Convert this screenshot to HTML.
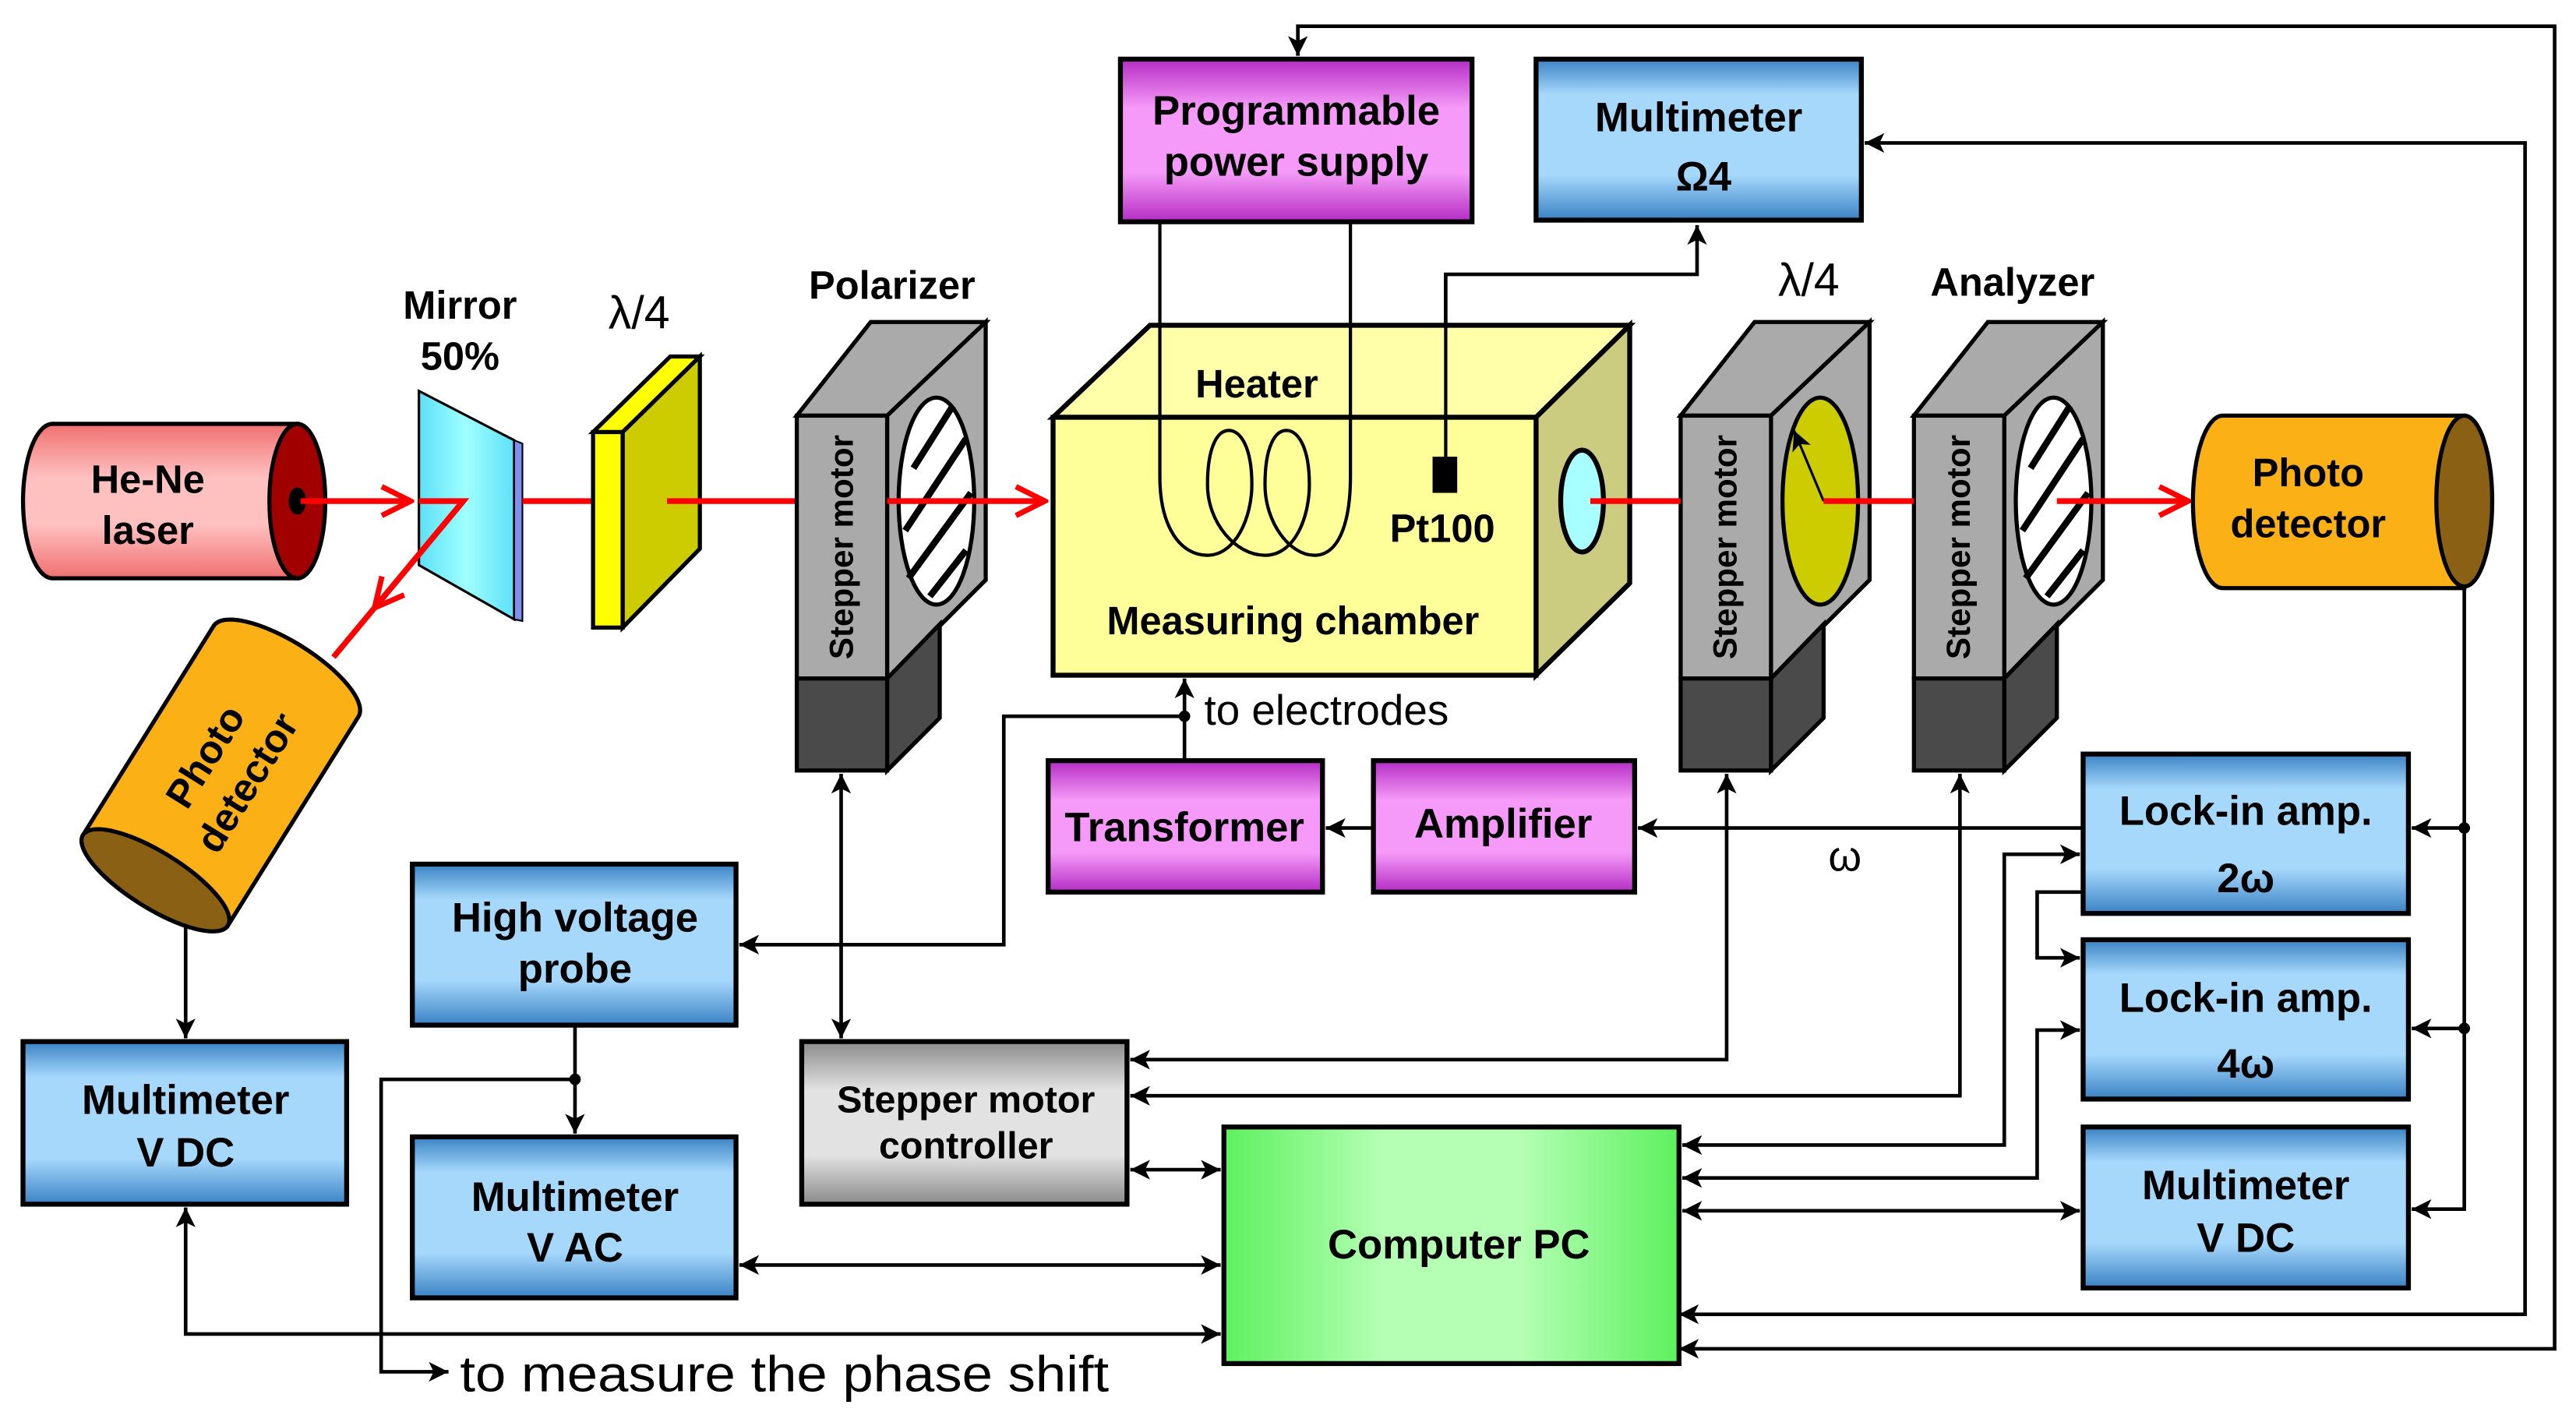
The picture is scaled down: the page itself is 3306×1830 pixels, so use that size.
<!DOCTYPE html>
<html><head><meta charset="utf-8"><style>
html,body{margin:0;padding:0;background:#fff;}
svg{display:block;}
text{font-family:"Liberation Sans",sans-serif;font-weight:bold;fill:#000;}
</style></head><body>
<svg width="3306" height="1830" viewBox="0 0 1568 868" preserveAspectRatio="none" xmlns="http://www.w3.org/2000/svg">
<defs>
<linearGradient id="blue" x1="0" y1="0" x2="0" y2="1">
<stop offset="0" stop-color="#3a82c4"/><stop offset="0.22" stop-color="#a6d8fc"/><stop offset="0.72" stop-color="#a6d8fc"/><stop offset="1" stop-color="#3a82c4"/></linearGradient>
<linearGradient id="mag" x1="0" y1="0" x2="0" y2="1">
<stop offset="0" stop-color="#b42cc4"/><stop offset="0.3" stop-color="#f59af8"/><stop offset="0.7" stop-color="#f59af8"/><stop offset="1" stop-color="#b42cc4"/></linearGradient>
<linearGradient id="gray" x1="0" y1="0" x2="0" y2="1">
<stop offset="0" stop-color="#8a8a8a"/><stop offset="0.3" stop-color="#e2e2e2"/><stop offset="0.7" stop-color="#e2e2e2"/><stop offset="1" stop-color="#8a8a8a"/></linearGradient>
<linearGradient id="green" x1="0" y1="0" x2="1" y2="0">
<stop offset="0" stop-color="#5ef05e"/><stop offset="0.35" stop-color="#b4ffb4"/><stop offset="0.65" stop-color="#b4ffb4"/><stop offset="1" stop-color="#5ef05e"/></linearGradient>
<linearGradient id="pink" x1="0" y1="0" x2="0" y2="1">
<stop offset="0" stop-color="#f07070"/><stop offset="0.35" stop-color="#ffc0c0"/><stop offset="0.65" stop-color="#ffc0c0"/><stop offset="1" stop-color="#f07070"/></linearGradient>
<linearGradient id="cyan" x1="0" y1="0" x2="1" y2="0">
<stop offset="0" stop-color="#5ee0f8"/><stop offset="0.5" stop-color="#a0ffff"/><stop offset="1" stop-color="#5ee0f8"/></linearGradient>
<marker id="a" viewBox="0 0 12 12" refX="12" refY="6" markerWidth="12" markerHeight="12" markerUnits="userSpaceOnUse" orient="auto-start-reverse">
<path d="M0,0 L12,6 L0,12 L3,6 Z" fill="#000"/></marker>
<marker id="r" viewBox="0 0 20 20" refX="18" refY="10" markerWidth="22" markerHeight="22" markerUnits="userSpaceOnUse" orient="auto">
<path d="M2,2 L18,10 L2,18" fill="none" stroke="#f00" stroke-width="3"/></marker>
</defs>

<g fill="none" stroke="#000" stroke-width="2.2">
<path d="M1022,821 H1555 V16 H790 V34" marker-start="url(#a)" marker-end="url(#a)"/>
<path d="M1022,800 H1537 V87 H1135" marker-start="url(#a)" marker-end="url(#a)"/>
<path d="M880,278 V167 H1033 V137" marker-end="url(#a)"/>
<path d="M1500,358 V736 H1468" marker-end="url(#a)"/>
<path d="M1500,504 H1468" marker-end="url(#a)"/>
<path d="M1500,626 H1468" marker-end="url(#a)"/>
<path d="M1268,504 H997" marker-end="url(#a)"/>
<path d="M836,504 H807" marker-end="url(#a)"/>
<path d="M721,463 V413" marker-end="url(#a)"/>
<path d="M721,436 H611 V575 H450" marker-end="url(#a)"/>
<path d="M512,471 V632" marker-start="url(#a)" marker-end="url(#a)"/>
<path d="M1051,471 V645 H688" marker-start="url(#a)" marker-end="url(#a)"/>
<path d="M1193,471 V667 H688" marker-start="url(#a)" marker-end="url(#a)"/>
<path d="M688,712 H743" marker-start="url(#a)" marker-end="url(#a)"/>
<path d="M1024,697 H1220 V520 H1266" marker-start="url(#a)" marker-end="url(#a)"/>
<path d="M1268,543 H1240 V583 H1266" marker-end="url(#a)"/>
<path d="M1024,717 H1240 V627 H1266" marker-start="url(#a)" marker-end="url(#a)"/>
<path d="M1024,737 H1266" marker-start="url(#a)" marker-end="url(#a)"/>
<path d="M350,624 V690" marker-end="url(#a)"/>
<path d="M350,657 H232 V835 H273" marker-end="url(#a)"/>
<path d="M450,770 H743" marker-start="url(#a)" marker-end="url(#a)"/>
<path d="M113,735 V812 H743" marker-start="url(#a)" marker-end="url(#a)"/>
<path d="M113,560 V632" marker-end="url(#a)"/>
</g>
<g fill="#000"><circle cx="1500" cy="504" r="3.5"/><circle cx="1500" cy="626" r="3.5"/><circle cx="721" cy="436" r="3.5"/><circle cx="350" cy="657" r="3.5"/></g>

<g stroke="#000" stroke-width="3">
<rect x="682" y="36" width="214" height="99" fill="url(#mag)"/>
<rect x="935" y="36" width="198" height="98" fill="url(#blue)"/>
<rect x="638" y="463" width="167" height="80" fill="url(#mag)"/>
<rect x="836" y="463" width="159" height="80" fill="url(#mag)"/>
<rect x="251" y="526" width="197" height="98" fill="url(#blue)"/>
<rect x="14" y="634" width="197" height="99" fill="url(#blue)"/>
<rect x="251" y="692" width="197" height="98" fill="url(#blue)"/>
<rect x="488" y="634" width="198" height="99" fill="url(#gray)"/>
<rect x="745" y="686" width="277" height="144" fill="url(#green)"/>
<rect x="1268" y="459" width="198" height="97" fill="url(#blue)"/>
<rect x="1268" y="572" width="198" height="97" fill="url(#blue)"/>
<rect x="1268" y="686" width="198" height="98" fill="url(#blue)"/>
</g>
<g font-size="25" text-anchor="middle">
<text x="789" y="76">Programmable</text><text x="789" y="107">power supply</text>
<text x="1034" y="80">Multimeter</text><text x="1037" y="116">Ω4</text>
<text x="721" y="512">Transformer</text>
<text x="915" y="510">Amplifier</text>
<text x="350" y="567">High voltage</text><text x="350" y="598">probe</text>
<text x="113" y="678">Multimeter</text><text x="113" y="710">V DC</text>
<text x="350" y="737">Multimeter</text><text x="350" y="768">V AC</text>
<text x="588" y="677" font-size="23">Stepper motor</text><text x="588" y="705" font-size="23">controller</text>
<text x="888" y="766">Computer PC</text>
<text x="1367" y="502">Lock-in amp.</text><text x="1367" y="543">2ω</text>
<text x="1367" y="616">Lock-in amp.</text><text x="1367" y="656">4ω</text>
<text x="1367" y="730">Multimeter</text><text x="1367" y="762">V DC</text>
</g>
<g font-size="26">
<text x="733" y="441" style="font-weight:normal">to electrodes</text>
<text x="280" y="847" font-size="31" textLength="395" lengthAdjust="spacingAndGlyphs" style="font-weight:normal">to measure the phase shift</text>
<text x="1123" y="530" text-anchor="middle" style="font-weight:normal">ω</text>
<text x="389" y="200" text-anchor="middle" font-size="28" style="font-weight:normal">λ/4</text>
<text x="1101" y="180" text-anchor="middle" font-size="28" style="font-weight:normal">λ/4</text>
</g>
<g font-size="24" text-anchor="middle">
<text x="280" y="194">Mirror</text><text x="280" y="225">50%</text>
<text x="543" y="182">Polarizer</text>
<text x="1225" y="180">Analyzer</text>
</g>

<g stroke="#000" stroke-width="2.5">
<path d="M32,258 H181 V352 H32 A18,47 0 0 1 32,258 Z" fill="url(#pink)"/>
<ellipse cx="181" cy="305" rx="17" ry="47" fill="#a00000"/>
<ellipse cx="181" cy="305" rx="4" ry="7" fill="#000"/>
</g>
<text x="90" y="300" font-size="24" text-anchor="middle">He-Ne</text>
<text x="90" y="331" font-size="24" text-anchor="middle">laser</text>

<g stroke="#f00" stroke-width="3.5" fill="none">
<path d="M183,305 H250" marker-end="url(#r)"/>
</g>
<polygon points="255,238 313,268 313,377 255,344" fill="url(#cyan)" stroke="#000" stroke-width="1.5"/>
<polygon points="313,268 318,270 318,378 313,377" fill="#8090f0" stroke="#000" stroke-width="1"/>
<g stroke="#f00" stroke-width="3.5" fill="none">
<path d="M255,305 H282 L203,400"/>
<path d="M282,305 L228,370" marker-end="url(#r)"/>
<path d="M318,305 H361"/>
</g>
<g stroke="#000" stroke-width="2.5">
<polygon points="361,263 379,263 426,217 408,217" fill="#ffff00"/>
<polygon points="379,263 426,217 426,334 379,382" fill="#cccc00"/>
<rect x="361" y="263" width="18" height="119" fill="#ffff00"/>
</g>
<path d="M406,305 H485" stroke="#f00" stroke-width="3.5"/>

<g id="holder" stroke="#000" stroke-width="2.5">
<polygon points="485,253 530,196 600,196 540,253" fill="#aaaaaa"/>
<polygon points="540,253 600,196 600,353 540,413" fill="#aaaaaa"/>
<polygon points="540,413 572,380 572,437 540,469" fill="#4a4a4a"/>
<rect x="485" y="253" width="55" height="160" fill="#aaaaaa"/>
<rect x="485" y="413" width="55" height="56" fill="#4a4a4a"/>
</g>
<use href="#holder" x="538" y="0"/>
<use href="#holder" x="680" y="0"/>
<g stroke="#000" stroke-width="2.5">
<ellipse cx="570" cy="305" rx="23" ry="63" fill="#fff"/>
<path d="M556,285 L580,247 M551,323 L588,267 M553,352 L591,300 M566,363 L588,335" stroke-width="4"/>
</g>
<ellipse cx="1108" cy="305" rx="23" ry="63" fill="#cccc00" stroke="#000" stroke-width="2.5"/>
<path d="M1110,305 L1092,262" stroke="#000" stroke-width="1.5" marker-end="url(#a)"/>
<g stroke="#000" stroke-width="2.5">
<ellipse cx="1250" cy="305" rx="23" ry="63" fill="#fff"/>
<path d="M1236,285 L1260,247 M1231,323 L1268,267 M1233,352 L1271,300 M1246,363 L1268,335" stroke-width="4"/>
</g>
<g font-size="20" text-anchor="middle">
<text transform="translate(519,333) rotate(-90)">Stepper motor</text>
<text transform="translate(1057,333) rotate(-90)">Stepper motor</text>
<text transform="translate(1199,333) rotate(-90)">Stepper motor</text>
</g>

<g stroke="#f00" stroke-width="3.5" fill="none">
<path d="M540,305 H636" marker-end="url(#r)"/>
<path d="M1110,305 H1165"/>
<path d="M1252,305 H1332" marker-end="url(#r)"/>
</g>

<g stroke="#000" stroke-width="3">
<polygon points="641,254 700,198 992,198 935,254" fill="#ffffaa"/>
<polygon points="935,254 992,198 992,355 935,411" fill="#cccc80"/>
<rect x="641" y="254" width="294" height="157" fill="#ffff99"/>
<ellipse cx="963" cy="305" rx="13" ry="31" fill="#a8ffff"/>
</g>
<path d="M968,305 H1023" stroke="#f00" stroke-width="3.5"/>
<g fill="none" stroke="#000" stroke-width="2">
<path d="M706,135 V290 C706,320 718,338 735,338 C752,338 762,315 762,295 C762,272 755,262 748,262 C741,262 735,272 735,295 C735,318 752,338 770,338 C788,338 797,315 797,295 C797,272 790,262 783,262 C776,262 770,272 770,295 C770,318 785,338 800,338 C815,338 822,318 822,290 V135"/>
</g>
<rect x="872" y="278" width="15" height="22" fill="#000"/>
<path d="M880,278 V167" stroke="#000" stroke-width="2"/>
<g font-size="24" text-anchor="middle">
<text x="765" y="242">Heater</text>
<text x="878" y="330">Pt100</text>
<text x="787" y="386">Measuring chamber</text>
</g>

<g stroke="#000" stroke-width="2.5">
<path d="M1353,253 H1500 V358 H1353 A18,52 0 0 1 1353,253 Z" fill="#fbb016"/>
<ellipse cx="1500" cy="305" rx="17" ry="52" fill="#8a6014"/>
</g>
<text x="1405" y="296" font-size="24" text-anchor="middle">Photo</text>
<text x="1405" y="327" font-size="24" text-anchor="middle">detector</text>

<g transform="translate(137,468) rotate(-58)">
<g stroke="#000" stroke-width="2.5">
<path d="M-80,-52 H70 A18,52 0 0 1 70,52 H-80 Z" fill="#fbb016"/>
<ellipse cx="-80" cy="0" rx="17" ry="52" fill="#8a6014"/>
</g>
<text x="0" y="-6" font-size="24" text-anchor="middle">Photo</text>
<text x="0" y="24" font-size="24" text-anchor="middle">detector</text>
</g>
</svg>
</body></html>
